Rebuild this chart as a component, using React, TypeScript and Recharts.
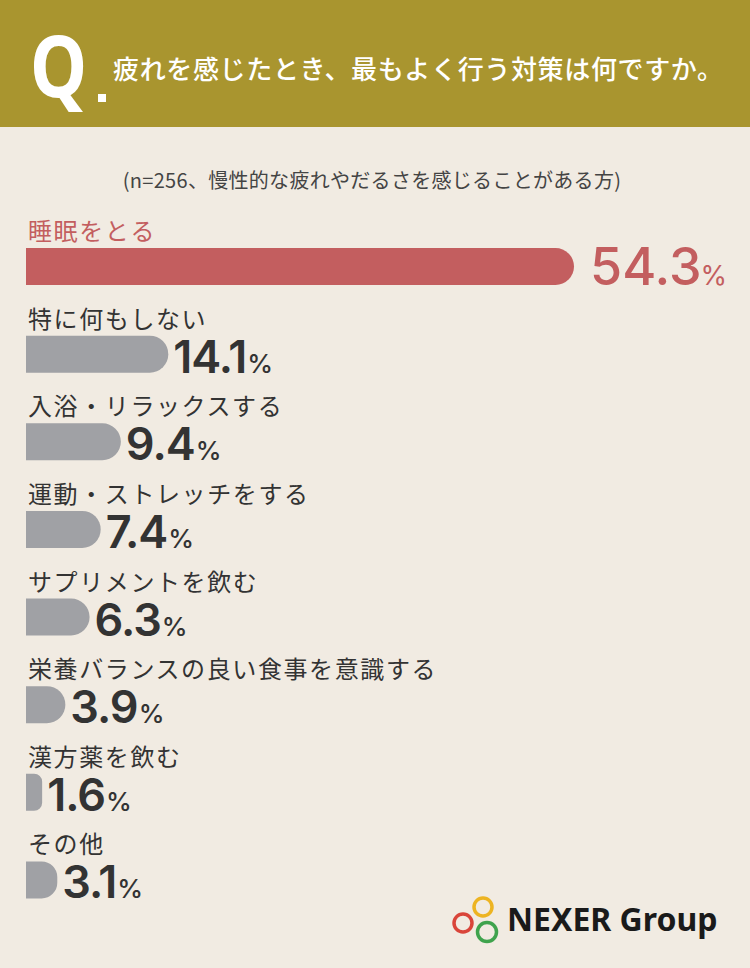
import React from "react";
import { BarChart, Bar, XAxis, YAxis, Cell, LabelList } from "recharts";

const categories = [
  "睡眠をとる",
  "特に何もしない",
  "入浴・リラックスする",
  "運動・ストレッチをする",
  "サプリメントを飲む",
  "栄養バランスの良い食事を意識する",
  "漢方薬を飲む",
  "その他",
];
const shares = [54.3, 14.1, 9.4, 7.4, 6.3, 3.9, 1.6, 3.1];

const question = "疲れを感じたとき、最もよく行う対策は何ですか。";
const note = "(n=256、慢性的な疲れやだるさを感じることがある方)";

const COLORS = {
  header: "#A9952F",
  bg: "#F1EBE2",
  accent: "#C35E5F",
  bar: "#A0A1A5",
  text: "#333333",
};

const JP = "'Noto Sans CJK JP', 'Noto Sans', sans-serif";
const NUM = "Inter, 'Noto Sans', sans-serif";

const data = categories.map((name, i) => ({ name, value: shares[i] }));

function RowLabel(props: any) {
  const { x, y, width, height, value, index } = props;
  const top = index === 0;
  const color = top ? COLORS.accent : COLORS.text;
  return (
    <g>
      <text x={x + 2} y={y - 8} fill={color} fontSize={24} letterSpacing={1.6} fontFamily={JP}>
        {categories[index]}
      </text>
      <text
        x={x + width + (top ? 16 : 5)}
        y={y + height}
        fill={color}
        fontFamily={NUM}
        fontWeight={top ? 500 : 600}
      >
        <tspan fontSize={top ? 52 : 45} letterSpacing={top ? 0 : -1}>
          {Number(value).toFixed(1)}
        </tspan>
        <tspan fontSize={top ? 27 : 26} fontWeight={top ? 400 : 500} dx={top ? -1 : 1}>
          %
        </tspan>
      </text>
    </g>
  );
}

function Logo() {
  return (
    <svg width={280} height={60} style={{ position: "absolute", left: 445, top: 892 }}>
      <circle cx={18} cy={31} r={9} fill="none" stroke="#D9453A" strokeWidth={3.5} />
      <circle cx={38} cy={15} r={9} fill="none" stroke="#EDB422" strokeWidth={3.5} />
      <circle cx={42} cy={40} r={9.5} fill="none" stroke="#3FA34D" strokeWidth={3.5} />
      <text x={62} y={39} fontSize={32} fontWeight={700} fill="#1A1A1A" fontFamily="'Noto Sans', sans-serif">
        NEXER Group
      </text>
    </svg>
  );
}

export default function App() {
  return (
    <div
      style={{
        position: "absolute",
        left: 0,
        top: 0,
        width: 750,
        height: 968,
        background: COLORS.bg,
        overflow: "hidden",
      }}
    >
      <div style={{ position: "absolute", left: 0, top: 0, width: 750, height: 127, background: COLORS.header }} />
      <div
        style={{
          position: "absolute",
          left: 30,
          top: 4,
          fontFamily: "'Noto Sans', sans-serif",
          fontWeight: 700,
          fontSize: 86,
          lineHeight: "120px",
          color: "#fff",
          transform: "scaleX(0.84)",
          transformOrigin: "left top",
        }}
      >
        Q
      </div>
      <div style={{ position: "absolute", left: 98, top: 94, width: 8, height: 8, background: "#fff" }} />
      <div
        style={{
          position: "absolute",
          left: 113,
          top: 50,
          fontFamily: JP,
          fontWeight: 500,
          fontSize: 26,
          letterSpacing: 0.65,
          lineHeight: "36px",
          color: "#fff",
          whiteSpace: "nowrap",
        }}
      >
        {question}
      </div>
      <div
        style={{
          position: "absolute",
          left: 0,
          top: 165,
          width: 744,
          textAlign: "center",
          fontFamily: JP,
          fontSize: 20,
          letterSpacing: 0.3,
          lineHeight: "30px",
          color: "#444",
          whiteSpace: "nowrap",
        }}
      >
        {note}
      </div>
      <div style={{ position: "absolute", left: 0, top: 0 }}>
        <BarChart
          width={750}
          height={968}
          data={data}
          layout="vertical"
          margin={{ top: 223, bottom: 44, left: 26, right: 176 }}
        >
          <XAxis type="number" domain={[0, 54.3]} hide />
          <YAxis type="category" dataKey="name" hide />
          <Bar dataKey="value" barSize={37} radius={[0, 18.5, 18.5, 0]} isAnimationActive={false}>
            {data.map((d, i) => (
              <Cell key={d.name} fill={i === 0 ? COLORS.accent : COLORS.bar} />
            ))}
            <LabelList dataKey="value" content={RowLabel} />
          </Bar>
        </BarChart>
      </div>
      <Logo />
    </div>
  );
}
